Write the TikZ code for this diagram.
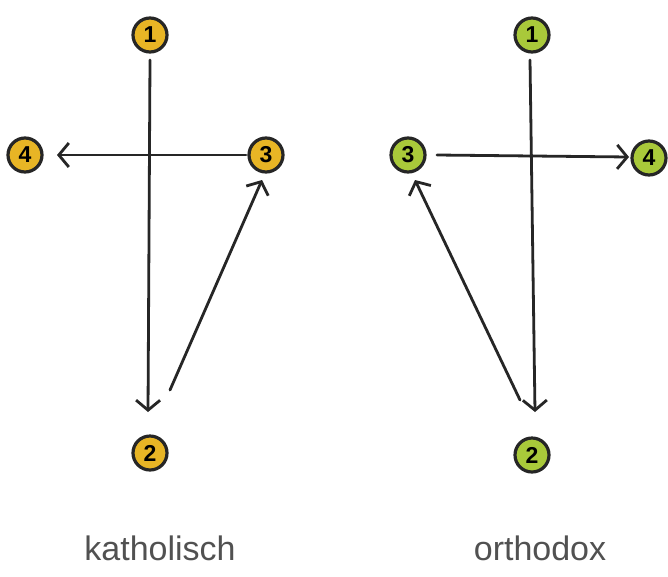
\documentclass[tikz,border=0pt]{standalone}
\usepackage{fontspec}
\setmainfont{Liberation Sans}
\usetikzlibrary{arrows.meta}
\definecolor{goldy}{HTML}{E8B525}
\definecolor{limey}{HTML}{A9C93A}
\definecolor{inky}{HTML}{262626}
\tikzset{
  numdot/.style={circle, draw=inky, line width=3.2pt, minimum size=34pt, inner sep=0pt, font=\bfseries\fontsize{23}{23}\selectfont, text=black},
  kat/.style={numdot, fill=goldy},
  orth/.style={numdot, fill=limey},
  conn/.style={draw=inky, line width=2.8pt, line cap=round, -{Straight Barb[length=10pt,width=24pt,line width=2.8pt]}},
  hand/.style={text=inky!80, font=\fontsize{34}{34}\selectfont}
}
\begin{document}
\begin{tikzpicture}[x=1pt,y=-1pt]
\useasboundingbox[fill=white] (0,0) rectangle (668,576);
% katholisch
\node[kat] (k1) at (150,35) {1};
\node[kat] (k4) at (25,155) {4};
\node[kat] (k3) at (266,155) {3};
\node[kat] (k2) at (150,453) {2};
\coordinate (k1s) at (150,60);
\coordinate (k1e) at (148,412);
\coordinate (k3s) at (246,155);
\coordinate (k4e) at (57,155);
\coordinate (kds) at (170,390);
\coordinate (kde) at (262,180);
\draw[conn] (k1s) -- (k1e);
\draw[conn] (k3s) -- (k4e);
\draw[conn] (kds) -- (kde);
\node[hand] (klab) at (160,548) {katholisch};
% orthodox
\node[orth] (o1) at (532,35) {1};
\node[orth] (o3) at (408,155) {3};
\node[orth] (o4) at (649,158) {4};
\node[orth] (o2) at (532,455) {2};
\coordinate (o1s) at (530,60);
\coordinate (o1e) at (535,412);
\coordinate (o3s) at (437,155);
\coordinate (o4e) at (629,157);
\coordinate (ods) at (520,400);
\coordinate (ode) at (415,180);
\draw[conn] (o1s) -- (o1e);
\draw[conn] (o3s) -- (o4e);
\draw[conn] (ods) -- (ode);
\node[hand] (olab) at (540,548) {orthodox};
\end{tikzpicture}
\end{document}
